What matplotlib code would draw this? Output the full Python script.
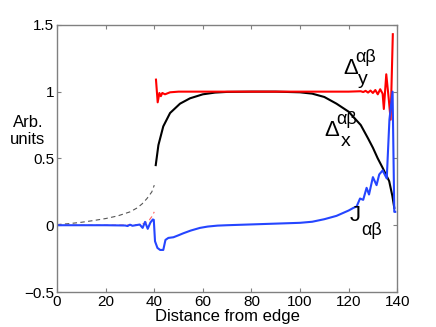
import matplotlib
matplotlib.use("Agg")
import matplotlib.pyplot as plt

# Delta_x (black, solid part)
dx_x = [40.6, 41.7, 43.7, 46.5, 50.6, 54.7, 60, 65, 70, 80, 90, 100, 105, 110, 112,
        115, 120, 125, 128, 130, 132, 134, 136.7, 138, 138.8]
dx_y = [0.45, 0.60, 0.74, 0.84, 0.91, 0.95, 0.98, 0.993, 0.998, 1.0, 1.0, 0.995, 0.985,
        0.96, 0.94, 0.91, 0.85, 0.75, 0.65, 0.58, 0.50, 0.43, 0.33, 0.22, 0.13]

# Delta_x extrapolation (black dashed)
dxd_x = [0, 5, 10, 15, 20, 25, 30, 33, 35, 37, 39, 40]
dxd_y = [0.005, 0.012, 0.022, 0.035, 0.05, 0.07, 0.1, 0.13, 0.16, 0.2, 0.25, 0.3]

# Delta_y (red, solid part)
dy_x = [40.7, 41.4, 42.1, 42.7, 43.3, 44.4, 46.5, 50, 60, 80, 100, 120, 125, 126, 127,
        128, 129, 130, 131, 132, 133, 134, 134.5, 135.5, 136.5, 137.3, 138.2]
dy_y = [1.09, 0.92, 0.99, 0.966, 0.99, 0.98, 0.995, 1.0, 1.0, 1.0, 1.0, 1.0, 1.003,
        0.997, 1.006, 0.993, 1.008, 0.99, 1.012, 0.98, 1.018, 0.985, 0.87, 1.13, 0.95,
        0.79, 1.43]

# Delta_y extrapolation (red dashed)
dyd_x = [0, 10, 20, 30, 33, 34, 36, 38, 39, 40]
dyd_y = [0, 0, 0, 0.002, 0.004, 0.006, 0.015, 0.04, 0.065, 0.1]

# J (blue)
j_x = [0, 10, 20, 28, 29, 30, 31, 33, 34, 35.2, 36.2, 37.3, 38.4, 39.4, 39.8, 40.3, 41.3,
       42.4, 43.7, 44.6, 45.8, 47.9, 50, 52, 55, 58.8, 62, 66, 70, 80, 90, 100, 105,
       110, 115, 120, 122, 123.3, 124.7, 126, 127.4, 128.4, 130, 131.5, 132.6, 134,
       135.7, 136.8, 138.1, 138.8, 139.2]
j_y = [0, 0, 0, -0.002, -0.006, 0.004, -0.004, 0.002, 0.005, -0.02, 0.025, -0.027,
       0.02, 0.043, 0.04, -0.12, -0.17, -0.185, -0.185, -0.11, -0.095, -0.09, -0.075,
       -0.06, -0.04, -0.02, -0.01, -0.003, 0.0, 0.006, 0.012, 0.018, 0.026, 0.045,
       0.07, 0.11, 0.13, 0.14, 0.2, 0.19, 0.28, 0.23, 0.36, 0.30, 0.38, 0.41, 0.35,
       0.79, 1.0, 0.1, 0.1]

plt.rcParams["font.family"] = ["Liberation Sans", "DejaVu Sans"]

fig = plt.figure(figsize=(4.36, 3.27), dpi=100)
ax = fig.add_axes([0.131, 0.107, 0.780, 0.817])

ax.plot(dxd_x, dxd_y, color="#555555", lw=0.8, ls=(0, (4, 3)))
ax.plot(dyd_x, dyd_y, color="#ff6060", lw=0.8, ls=(0, (4, 3)))
ax.plot(dx_x, dx_y, color="black", lw=1.5)
ax.plot(dy_x, dy_y, color="#ff0000", lw=1.5)
ax.plot(j_x, j_y, color="#2545ff", lw=1.5)

ax.set_xlim(0, 140)
ax.set_ylim(-0.5, 1.5)
ax.set_xticks([0, 20, 40, 60, 80, 100, 120, 140])
ax.set_yticks([-0.5, 0, 0.5, 1, 1.5])
ax.set_yticklabels(["\u22120.5", "0", "0.5", "1", "1.5"])
ax.tick_params(direction="in", top=True, right=True, length=3, labelsize=11,
               color="#808080", pad=2)
for s in ax.spines.values():
    s.set_color("#808080")
    s.set_linewidth(1.0)

ax.set_xlabel("Distance from edge", fontsize=12, labelpad=0)
fig.text(0.064, 0.60, "Arb.\nunits", fontsize=12, ha="center", va="center",
         linespacing=1.2)

# curve labels
ax.text(120.8, 1.17, "\u0394", fontsize=16, ha="center", va="center")
ax.text(127.2, 1.255, "\u03b1\u03b2", fontsize=13, ha="center", va="center")
ax.text(126, 1.09, "y", fontsize=14, ha="center", va="center")

ax.text(113, 0.71, "\u0394", fontsize=16, ha="center", va="center")
ax.text(119.2, 0.795, "\u03b1\u03b2", fontsize=13, ha="center", va="center")
ax.text(118.8, 0.63, "x", fontsize=14, ha="center", va="center")

ax.text(122.6, 0.07, "J", fontsize=16, ha="center", va="center")
ax.text(129.4, -0.04, "\u03b1\u03b2", fontsize=13, ha="center", va="center")

fig.savefig("out.png", dpi=100)
